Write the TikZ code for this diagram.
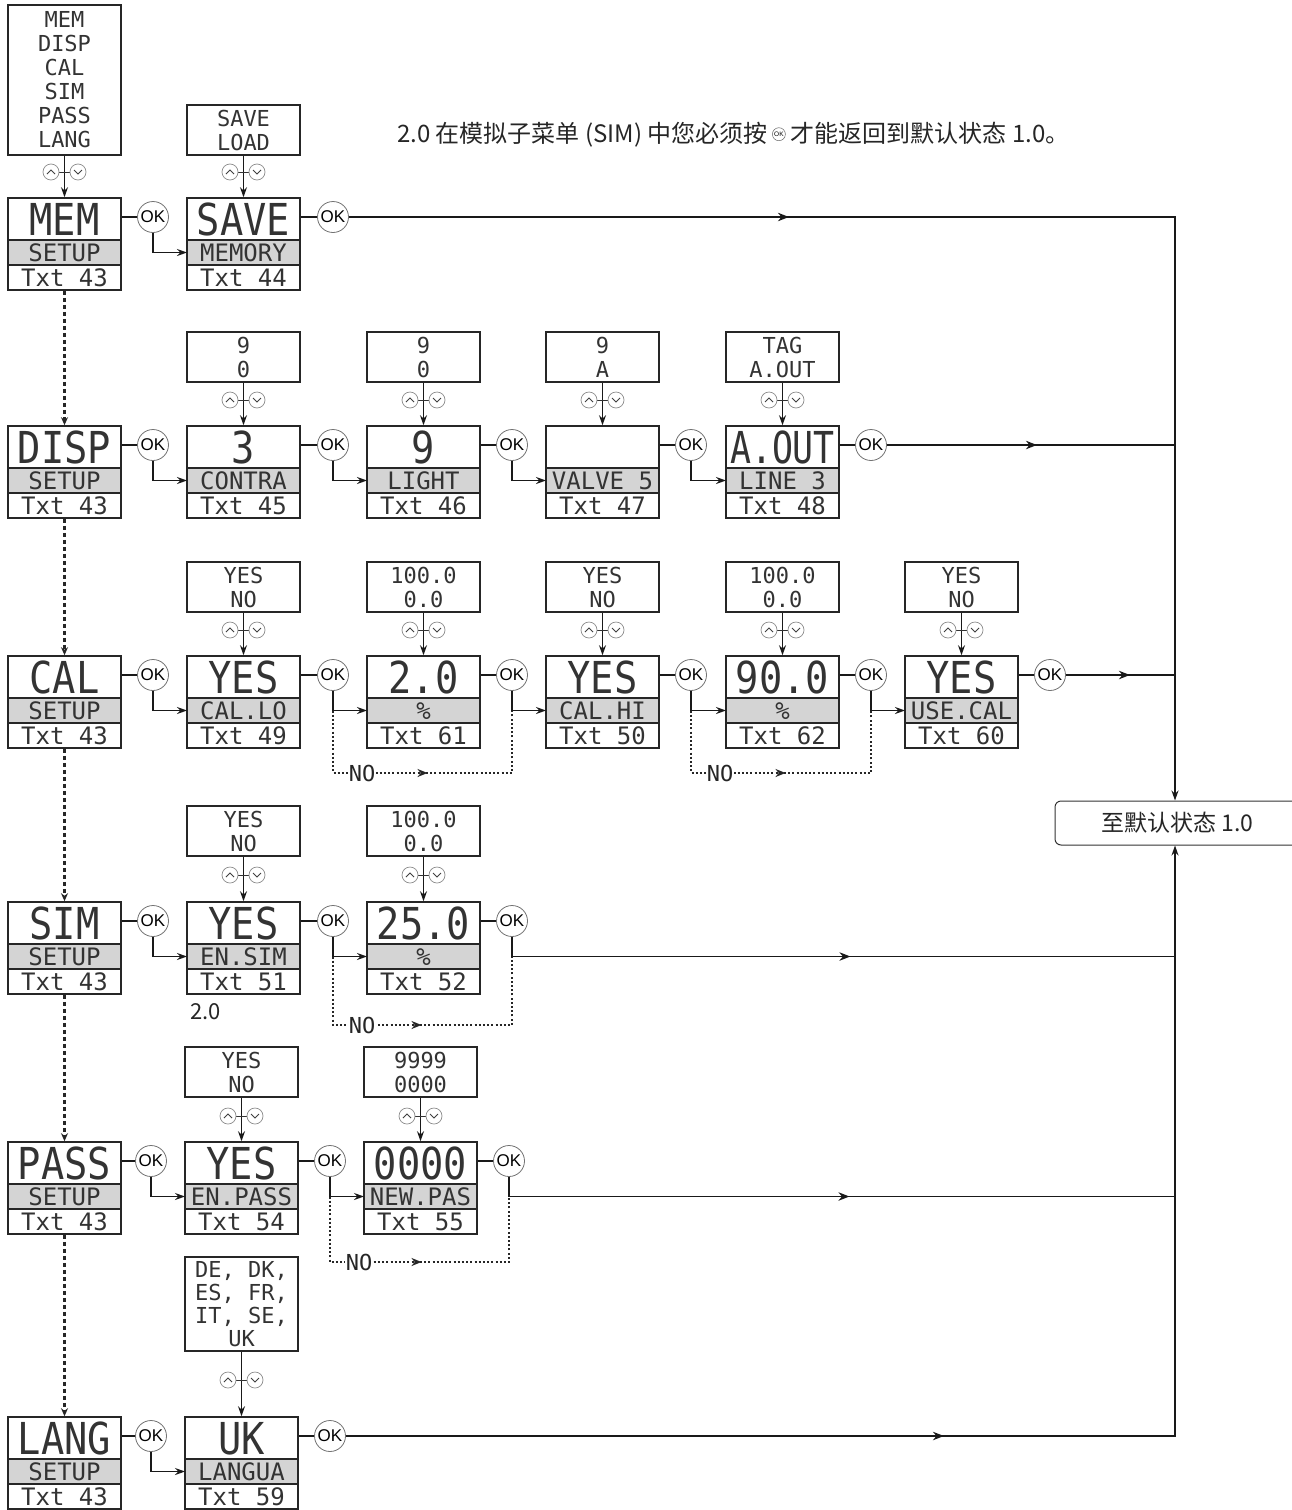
\documentclass[tikz,border=0pt]{standalone}
\usepackage{graphicx}
\usepackage{fontspec}
\newfontfamily\cjkf{Noto Sans CJK SC}
\newfontfamily\lcdf{DejaVu Sans Mono}
\newfontfamily\lcdbigf[FakeStretch=0.88]{DejaVu Sans Mono}
\newfontfamily\okf{Liberation Sans}
\usetikzlibrary{arrows.meta,decorations.markings}
\definecolor{bandgray}{RGB}{212,212,212}

\newcommand{\lcdbox}[6]{%
  \fill[bandgray] (#2,#3+42) rectangle (#2+113,#3+67);
  \draw[boxline] (#2,#3+42) -- (#2+113,#3+42);
  \draw[boxline] (#2,#3+67) -- (#2+113,#3+67);
  \node[lcdframe] (#1) at (#2+56.5,#3+46) {};
  \coordinate (#1-in) at (#2,#3+54.5);
  \node[bigtxt] (#1-big) at (#2+56.5,#3+21.5) {#4};
  \node[midtxt] (#1-mid) at (#2+56.5,#3+54.5) {#5};
  \node[midtxt] (#1-low) at (#2+56.5,#3+79.5) {#6};
}
\newcommand{\updn}[2]{%
  \draw[icoline] (#1-6,#2) -- (#1+6,#2);
  \draw[icoc] (#1-13.5,#2) circle[radius=8];
  \draw[icoc] (#1+13.5,#2) circle[radius=8];
  \draw[icochev] (#1-17.5,#2+2) -- (#1-13.5,#2-2) -- (#1-9.5,#2+2);
  \draw[icochev] (#1+9.5,#2-2) -- (#1+13.5,#2+2) -- (#1+17.5,#2-2);
}

\begin{document}
\begin{tikzpicture}[x=1pt,y=-1pt,
  boxline/.style={line width=1.6pt, draw=black!85},
  lcdframe/.style={draw=black!85, line width=1.6pt, minimum width=113pt, minimum height=92pt, inner sep=0pt},
  bigtxt/.style={font=\lcdbigf\fontsize{44}{44}\selectfont, text=black!80, inner sep=0pt, text height=32pt, text depth=0pt},
  midtxt/.style={font=\lcdf\fontsize{24}{24}\selectfont, text=black!80, inner sep=0pt, text height=17.5pt, text depth=0pt},
  valbox/.style={draw=black!85, line width=1.2pt, minimum width=113pt, minimum height=50pt, inner sep=0pt, align=center, font=\lcdf\fontsize{22}{24}\selectfont, text=black!80},
  okc/.style={circle, draw=black!55, line width=0.8pt, fill=white, minimum size=31pt, inner sep=0pt, font=\okf\fontsize{17}{17}\selectfont},
  conn/.style={line width=1.3pt, draw=black!90},
  arr/.style={conn, -{Stealth[length=10pt,width=7pt]}},
  ldash/.style={line width=2.4pt, draw=black!85, dash pattern=on 4pt off 3pt, -{Stealth[length=8pt,width=7pt]}},
  dotl/.style={line width=2pt, draw=black!85, dash pattern=on 2pt off 2.2pt},
  midarr/.style={postaction={decorate}, decoration={markings, mark=at position #1 with {\arrow{Stealth[length=11pt,width=8.5pt]}}}},
  dotarr/.style={postaction={decorate}, decoration={markings, mark=at position #1 with {\arrow{Stealth[length=10pt,width=8pt]}}}},
  notxt/.style={font=\lcdf\fontsize{22}{22}\selectfont, text=black!85, fill=white, inner sep=1pt},
  icoc/.style={draw=black!45, line width=0.7pt, fill=white},
  icochev/.style={draw=black!75, line width=0.8pt},
  icoline/.style={draw=black!80, line width=1pt},
  captxt/.style={font=\cjkf\fontsize{24}{24}\selectfont, text=black!85, inner sep=0pt},
  okmini/.style={circle, draw=black!60, line width=0.5pt, minimum size=13pt, inner sep=0pt, font=\okf\fontsize{6.5}{6.5}\selectfont},
  defbox/.style={draw=black!80, line width=1pt, rounded corners=6pt, minimum width=245pt, minimum height=44pt, font=\cjkf\fontsize{23}{23}\selectfont, text=black!85}
]
\useasboundingbox (0,0) rectangle (1292,1510);
\fill[white] (0,0) rectangle (1292,1510);

% caption
\node[captxt, anchor=base west] (cap1) at (397,142) {2.0 在模拟子菜单 (SIM) 中您必须按};
\node[okmini] (capok) at ([xshift=11pt]cap1.east) {OK};
\node[captxt, anchor=base west, xshift=5pt] (cap2) at (capok.east |- cap1.base) {才能返回到默认状态 1.0。};

% target
\node[defbox] (def) at (1177.5,823) {至默认状态 1.0};
\coordinate (rail) at (1175,0);

% ---------- MEM row ----------
\node[valbox, minimum height=150pt] (lst) at (64.5,80) {MEM\\DISP\\CAL\\SIM\\PASS\\LANG};
\node[valbox] (mv1) at (243.5,130) {SAVE\\LOAD};
\lcdbox{m0}{8}{198}{MEM}{SETUP}{Txt 43}
\lcdbox{m1}{187}{198}{SAVE}{MEMORY}{Txt 44}
\draw[arr] (lst.south) -- (m0.north);
\draw[arr] (mv1.south) -- (m1.north);
\updn{64.5}{172}
\updn{243.5}{172}
\node[okc] (mk1) at (153,217) {OK};
\node[okc] (mk2) at (333,217) {OK};
\draw[conn] (mk1 -| m0.east) -- (mk1.west);
\draw[arr] (mk1.south) |- (m1-in);
\draw[conn] (mk2 -| m1.east) -- (mk2.west);
\draw[arr, midarr=440pt] (mk2.east) -- (mk2.east -| rail) -- (rail |- def.north);

% ---------- DISP row ----------
\node[valbox] (dv1) at (243.5,357) {9\\0};
\node[valbox] (dv2) at (423.5,357) {9\\0};
\node[valbox] (dv3) at (602.5,357) {9\\A};
\node[valbox] (dv4) at (782.5,357) {TAG\\A.OUT};
\lcdbox{d0}{8}{426}{DISP}{SETUP}{Txt 43}
\lcdbox{d1}{187}{426}{3}{CONTRA}{Txt 45}
\lcdbox{d2}{367}{426}{9}{LIGHT}{Txt 46}
\lcdbox{d3}{546}{426}{}{VALVE 5}{Txt 47}
\lcdbox{d4}{726}{426}{\scalebox{0.9}[1]{A.OUT}}{LINE 3}{Txt 48}
\draw[arr] (dv1.south) -- (d1.north);
\draw[arr] (dv2.south) -- (d2.north);
\draw[arr] (dv3.south) -- (d3.north);
\draw[arr] (dv4.south) -- (d4.north);
\updn{243.5}{400}
\updn{423.5}{400}
\updn{602.5}{400}
\updn{782.5}{400}
\node[okc] (dk1) at (153,445) {OK};
\node[okc] (dk2) at (333,445) {OK};
\node[okc] (dk3) at (512,445) {OK};
\node[okc] (dk4) at (691,445) {OK};
\node[okc] (dk5) at (871,445) {OK};
\draw[conn] (dk1 -| d0.east) -- (dk1.west);
\draw[arr] (dk1.south) |- (d1-in);
\draw[conn] (dk2 -| d1.east) -- (dk2.west);
\draw[arr] (dk2.south) |- (d2-in);
\draw[conn] (dk3 -| d2.east) -- (dk3.west);
\draw[arr] (dk3.south) |- (d3-in);
\draw[conn] (dk4 -| d3.east) -- (dk4.west);
\draw[arr] (dk4.south) |- (d4-in);
\draw[conn] (dk5 -| d4.east) -- (dk5.west);
\draw[conn, midarr=150pt] (dk5.east) -- (dk5.east -| rail);

% ---------- CAL row ----------
\node[valbox] (cv1) at (243.5,587) {YES\\NO};
\node[valbox] (cv2) at (423.5,587) {100.0\\0.0};
\node[valbox] (cv3) at (602.5,587) {YES\\NO};
\node[valbox] (cv4) at (782.5,587) {100.0\\0.0};
\node[valbox] (cv5) at (961.5,587) {YES\\NO};
\lcdbox{c0}{8}{656}{CAL}{SETUP}{Txt 43}
\lcdbox{c1}{187}{656}{YES}{CAL.LO}{Txt 49}
\lcdbox{c2}{367}{656}{2.0}{\%}{Txt 61}
\lcdbox{c3}{546}{656}{YES}{CAL.HI}{Txt 50}
\lcdbox{c4}{726}{656}{90.0}{\%}{Txt 62}
\lcdbox{c5}{905}{656}{YES}{USE.CAL}{Txt 60}
\draw[arr] (cv1.south) -- (c1.north);
\draw[arr] (cv2.south) -- (c2.north);
\draw[arr] (cv3.south) -- (c3.north);
\draw[arr] (cv4.south) -- (c4.north);
\draw[arr] (cv5.south) -- (c5.north);
\updn{243.5}{630}
\updn{423.5}{630}
\updn{602.5}{630}
\updn{782.5}{630}
\updn{961.5}{630}
\node[okc] (ck1) at (153,675) {OK};
\node[okc] (ck2) at (333,675) {OK};
\node[okc] (ck3) at (512,675) {OK};
\node[okc] (ck4) at (691,675) {OK};
\node[okc] (ck5) at (871,675) {OK};
\node[okc] (ck6) at (1050,675) {OK};
\draw[conn] (ck1 -| c0.east) -- (ck1.west);
\draw[arr] (ck1.south) |- (c1-in);
\draw[conn] (ck2 -| c1.east) -- (ck2.west);
\draw[arr] (ck2.south) |- (c2-in);
\draw[conn] (ck3 -| c2.east) -- (ck3.west);
\draw[arr] (ck3.south) |- (c3-in);
\draw[conn] (ck4 -| c3.east) -- (ck4.west);
\draw[arr] (ck4.south) |- (c4-in);
\draw[conn] (ck5 -| c4.east) -- (ck5.west);
\draw[arr] (ck5.south) |- (c5-in);
\draw[conn] (ck6 -| c5.east) -- (ck6.west);
\draw[conn, midarr=64pt] (ck6.east) -- (ck6.east -| rail);
\coordinate (cn1) at (333,773);
\coordinate (cn2) at (691,773);
\draw[dotl, dotarr=157pt] (ck2.south |- c2-in) -- (ck2.south |- cn1) -- (ck3.south |- cn1) -- (ck3.south |- c2-in);
\draw[dotl, dotarr=157pt] (ck4.south |- c4-in) -- (ck4.south |- cn2) -- (ck5.south |- cn2) -- (ck5.south |- c4-in);
\node[notxt] (cno1) at (362,773) {NO};
\node[notxt] (cno2) at (720,773) {NO};

% ---------- SIM row ----------
\node[valbox] (sv1) at (243.5,831) {YES\\NO};
\node[valbox] (sv2) at (423.5,831) {100.0\\0.0};
\lcdbox{s0}{8}{902}{SIM}{SETUP}{Txt 43}
\lcdbox{s1}{187}{902}{YES}{EN.SIM}{Txt 51}
\lcdbox{s2}{367}{902}{25.0}{\%}{Txt 52}
\draw[arr] (sv1.south) -- (s1.north);
\draw[arr] (sv2.south) -- (s2.north);
\updn{243.5}{875}
\updn{423.5}{875}
\node[okc] (sk1) at (153,921) {OK};
\node[okc] (sk2) at (333,921) {OK};
\node[okc] (sk3) at (512,921) {OK};
\draw[conn] (sk1 -| s0.east) -- (sk1.west);
\draw[arr] (sk1.south) |- (s1-in);
\draw[conn] (sk2 -| s1.east) -- (sk2.west);
\draw[arr] (sk2.south) |- (s2-in);
\draw[conn] (sk3 -| s2.east) -- (sk3.west);
\draw[conn, midarr=358pt] (sk3.south) |- (rail |- s2-in);
\coordinate (sn1) at (333,1025);
\draw[dotl, dotarr=157pt] (sk2.south |- s2-in) -- (sk2.south |- sn1) -- (sk3.south |- sn1) -- (sk3.south |- s2-in);
\node[notxt] (sno1) at (362,1025) {NO};
\node[captxt, font=\cjkf\fontsize{22}{22}\selectfont, anchor=base west] (lbl20) at (190,1019) {2.0};

% ---------- PASS row ----------
\node[valbox] (pv1) at (241.5,1072) {YES\\NO};
\node[valbox] (pv2) at (420.5,1072) {9999\\0000};
\lcdbox{p0}{8}{1142}{PASS}{SETUP}{Txt 43}
\lcdbox{p1}{185}{1142}{YES}{EN.PASS}{Txt 54}
\lcdbox{p2}{364}{1142}{0000}{NEW.PAS}{Txt 55}
\draw[arr] (pv1.south) -- (p1.north);
\draw[arr] (pv2.south) -- (p2.north);
\updn{241.5}{1116}
\updn{420.5}{1116}
\node[okc] (pk1) at (151,1161) {OK};
\node[okc] (pk2) at (330,1161) {OK};
\node[okc] (pk3) at (509,1161) {OK};
\draw[conn] (pk1 -| p0.east) -- (pk1.west);
\draw[arr] (pk1.south) |- (p1-in);
\draw[conn] (pk2 -| p1.east) -- (pk2.west);
\draw[arr] (pk2.south) |- (p2-in);
\draw[conn] (pk3 -| p2.east) -- (pk3.west);
\draw[conn, midarr=360pt] (pk3.south) |- (rail |- p2-in);
\coordinate (pn1) at (330,1262);
\draw[dotl, dotarr=157pt] (pk2.south |- p2-in) -- (pk2.south |- pn1) -- (pk3.south |- pn1) -- (pk3.south |- p2-in);
\node[notxt] (pno1) at (359,1262) {NO};

% ---------- LANG row ----------
\node[valbox, minimum height=94pt, font=\lcdf\fontsize{22}{23}\selectfont] (lv1) at (241.5,1304) {DE, DK,\\ES, FR,\\IT, SE,\\UK};
\lcdbox{l0}{8}{1417}{LANG}{SETUP}{Txt 43}
\lcdbox{l1}{185}{1417}{UK}{LANGUA}{Txt 59}
\draw[arr] (lv1.south) -- (l1.north);
\updn{241.5}{1380}
\node[okc] (lk1) at (151,1436) {OK};
\node[okc] (lk2) at (330,1436) {OK};
\draw[conn] (lk1 -| l0.east) -- (lk1.west);
\draw[arr] (lk1.south) |- (l1-in);
\draw[conn] (lk2 -| l1.east) -- (lk2.west);
\draw[arr, midarr=598pt] (lk2.east) -- (lk2.east -| rail) -- (rail |- def.south);

% ---------- left column ----------
\draw[ldash] (m0.south) -- (d0.north);
\draw[ldash] (d0.south) -- (c0.north);
\draw[ldash] (c0.south) -- (s0.north);
\draw[ldash] (s0.south) -- (p0.north);
\draw[ldash] (p0.south) -- (l0.north);
\end{tikzpicture}
\end{document}
